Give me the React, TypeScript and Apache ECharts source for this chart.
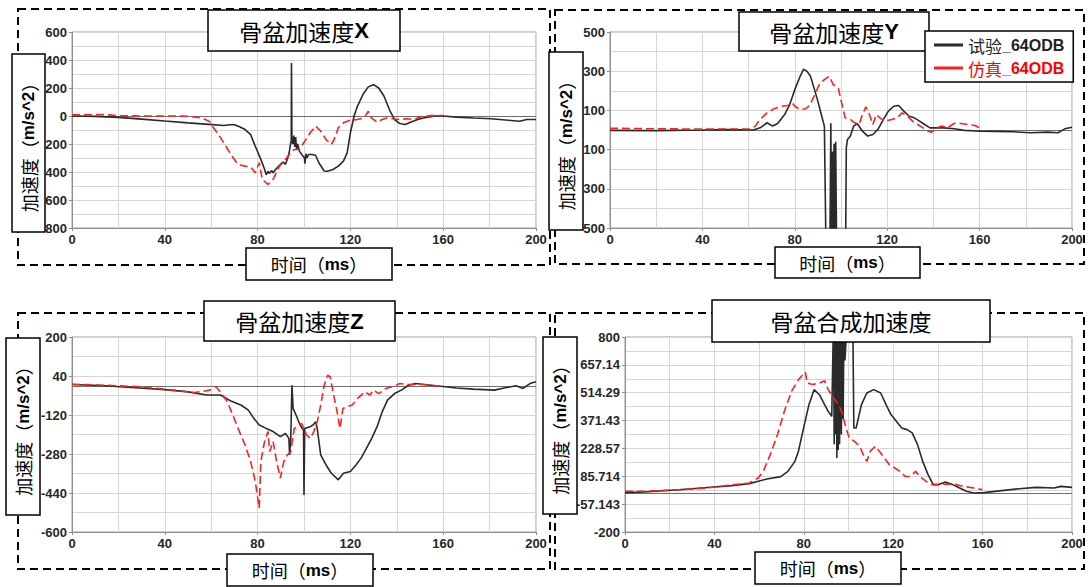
import React, { useEffect, useRef } from 'react';
import * as echarts from 'echarts';

type Pt = [number, number];

// Pelvis acceleration traces, [time (ms), acceleration (m/s^2)]
const X_TEST: Pt[] = [
  [0, 0], [10, -3], [20, -10], [30, -22], [40, -36], [50, -49], [59, -60], [65.5, -68], [68, -63], [70, -62],
  [72, -75], [74.6, -97], [77, -133], [79, -216], [81.4, -310], [83, -380], [83.7, -420], [84.5, -395], [85.2, -410],
  [86, -390], [86.7, -405], [88, -377], [89.8, -346], [91, -330], [92, -345], [93, -300], [93.6, -263], [94.2, -200],
  [94.5, -180], [94.6, 379], [94.8, -160], [95.2, -200], [95.6, -140], [96, -220], [96.4, -150], [96.8, -240],
  [97.3, -200], [98, -251], [98.8, -270], [99.6, -287], [100.2, -300], [100.4, -340], [100.8, -270], [101.3, -300],
  [101.9, -275], [103.4, -275], [105, -280], [106.4, -334], [108.7, -393], [110, -395], [112.5, -382], [114.8, -358],
  [117, -322], [118.6, -263], [120, -120], [121.6, 0], [123, 69], [125.4, 153], [127.7, 208], [130, 224], [132.2, 200],
  [134.5, 141], [136.8, 46], [139, -25], [141.3, -54], [143.6, -61], [145.9, -44], [149, -25], [152, -13], [156.5, 0],
  [160, 0], [165.6, -8], [173, -14], [180.7, -20], [188, -30], [193, -37], [196, -25], [200, -25],
];
const X_SIM: Pt[] = [
  [0, 8], [8, 8], [14, 10], [20, 2], [30, 0], [44, 0], [50, -2], [56, -13], [59.4, -40], [61, -85], [63.2, -133],
  [65.5, -193], [68.5, -276], [71.6, -347], [74.6, -358], [77, -365], [79, -405], [80.7, -334], [82, -453],
  [84.5, -489], [86.7, -453], [89, -370], [91.3, -322], [93.6, -276], [95.8, -239], [98, -239], [100.4, -179],
  [102.7, -120], [105, -72], [107.2, -108], [109.5, -168], [111.8, -203], [113, -168], [114.8, -84], [117, -49],
  [120, -30], [123, -25], [126, -13], [127.7, 34], [129, -13], [131.5, -44], [133.7, -25], [136, -13], [138.3, -20],
  [141.3, -25], [144.4, -20], [147.4, -25], [150.4, -5], [155, 3], [160, 3],
];

const Y_TEST: Pt[] = [
  [0, -2], [20, -3], [40, 0], [50, 2], [62, 0], [65, 11], [68, 37], [70.4, 20], [72.6, 33], [75.6, 79], [77.8, 130],
  [80, 206], [82.3, 274], [83.8, 311], [85.3, 299], [86.8, 274], [88.3, 215], [89.8, 155], [91.3, 87], [92.8, 20],
  [93.5, -600], [95.2, -600], [95.6, 35], [95.9, -600], [96.3, -110], [96.6, -600], [97, -70], [97.3, -600],
  [97.7, -60], [98.1, -600], [102, -600], [102.3, -90], [102.8, -48], [104, -32], [105.5, 20], [107, 33], [109.3, -6],
  [111.5, -31], [113.8, -23], [116, 3], [118.3, 53], [120.5, 96], [122.8, 121], [125, 125], [127.2, 96], [129.5, 70],
  [131.7, 62], [134, 45], [136.2, 28], [138.5, 11], [141.5, 11], [144.5, 11], [149, 6], [153.4, -2], [161, -6],
  [167, -7], [174.4, -9], [182, -14], [189.4, -11], [193.9, -14], [196.9, 6], [200, 14],
];
const Y_SIM: Pt[] = [
  [0, 9], [20, 6], [40, 5], [60.6, 5], [62.9, 20], [65, 54], [68, 87], [71, 108], [74, 121], [77, 125], [78.9, 138],
  [80, 121], [82.3, 104], [84.6, 108], [86.4, 125], [88.3, 172], [90.6, 232], [92.8, 257], [95, 274], [96.6, 232],
  [98.8, 215], [100.3, 138], [101.8, 62], [104, 54], [105.5, 40], [107.8, 28], [109.3, 79], [110.8, 118], [112.3, 79],
  [113.8, 28], [115.3, 79], [116.8, 62], [119, 45], [122, 54], [124.3, 62], [126.5, 87], [128.7, 70], [131, 45],
  [133.2, 28], [135.5, 11], [137.7, -6], [139.2, -11], [141.5, 11], [143.7, 20], [146, 11], [149, 33], [152, 33],
  [155, 28], [158, 23], [160, 11],
];

const Z_TEST: Pt[] = [
  [0, 5], [14, 0], [29, -9], [40, -16], [50, -25], [58, -38], [64, -38], [68.5, -63], [73, -80], [76, -100],
  [78.4, -134], [80.7, -161], [83.7, -175], [86.7, -188], [89.8, -209], [92, -196], [93.5, -216], [93.8, -284],
  [94.3, -216], [94.8, 2], [95.3, -93], [96.6, -121], [98, -154], [99.2, -175], [99.8, -180], [100, -448],
  [100.3, -175], [102.7, -168], [104, -160], [105, -148], [105.7, -175], [107.2, -284], [109.5, -325], [111.8, -359],
  [114.8, -386], [117, -359], [120, -352], [122.4, -325], [124.6, -297], [126.9, -257], [129.2, -216], [131.5, -168],
  [133.7, -107], [136, -59], [139, -32], [142, -18], [145, 2], [148, 9], [152, 5], [156.5, 0], [161, -4],
  [165.6, -9], [173, -14], [182, -18], [186.8, -8], [191.4, 0], [194.4, -11], [197.4, 9], [200, 16],
];
const Z_SIM: Pt[] = [
  [0, 6], [14, 2], [29, -4], [44, -18], [53, -28], [59.4, -18], [62, -4], [64, -25], [67, -66], [69.3, -120],
  [71.6, -175], [74.6, -243], [77, -311], [79, -393], [80.7, -502], [81.4, -311], [83, -229], [84.5, -188],
  [85.2, -270], [86.7, -229], [88.2, -311], [89.8, -379], [91.3, -311], [92.8, -284], [94.3, -270], [95.8, -175],
  [97.3, -168], [98.9, -154], [101.1, -202], [102.7, -216], [104.2, -189], [105.7, -148], [107.2, -80], [108.7, 2],
  [110.2, 43], [111.3, 36], [112.5, -25], [114, -93], [115.5, -175], [116.8, -93], [118.6, -86], [120.8, -79],
  [123.1, -52], [126.2, -25], [128.4, -38], [130, -18], [132.2, -32], [135.3, -11], [138.3, -4], [141.3, 9],
  [144.4, 5], [150.4, 5], [155, 2], [160, -4],
];

const R_TEST: Pt[] = [
  [0, 2], [8.6, 5], [24.3, 17], [40, 31], [47.8, 38], [55.6, 48], [63.5, 72], [69.7, 84], [72.9, 111], [76, 162],
  [77.6, 214], [79.9, 333], [82.3, 453], [84.6, 530], [87, 504], [89.3, 453], [90.9, 419], [92.5, 393], [93.3, 900],
  [93.6, 250], [93.9, 900], [94.2, 300], [94.5, 900], [94.8, 180], [95.1, 900], [95.4, 220], [95.7, 900], [96, 250],
  [96.4, 900], [96.8, 300], [97.3, 900], [97.6, 380], [98, 900], [98.4, 680], [99.5, 900], [101.9, 900],
  [102.4, 333], [103.4, 333], [105.8, 453], [108.2, 513], [111.3, 530], [114.4, 513], [116.8, 453], [119, 402],
  [121.5, 367], [123.8, 333], [126.2, 325], [128.5, 308], [130.9, 248], [133.2, 162], [135.6, 94], [137.9, 43],
  [140.3, 43], [143.4, 56], [146.6, 43], [149.7, 26], [152.8, 9], [156, 0], [160.7, 2], [168.5, 12], [176.3, 22],
  [184, 29], [192, 26], [195, 34], [200, 29],
];
const R_SIM: Pt[] = [
  [0, 9], [8.6, 9], [24.3, 17], [36.8, 26], [46.2, 39], [55.6, 51], [59.6, 77], [61.9, 111], [65, 197], [68.2, 299],
  [71.3, 419], [74.5, 521], [77.6, 581], [80.7, 620], [81.5, 564], [83.9, 556], [87, 564], [89.3, 576], [90.9, 530],
  [93.3, 487], [95.6, 453], [97.2, 410], [98.7, 342], [100.3, 282], [102.7, 265], [105, 239], [106.6, 197],
  [108.2, 162], [109.7, 214], [112, 239], [114.4, 205], [116, 180], [118.3, 145], [120.7, 128], [123, 111],
  [125.4, 85], [127.7, 85], [130, 111], [132.4, 80], [134.8, 60], [137.1, 43], [140.3, 43], [144.2, 46],
  [148.1, 43], [151.3, 34], [156, 26], [159.9, 17],
];

// Tick labels of the acceleration axes, bottom to top
const X_ACC_TICKS = ['-800', '-600', '-400', '-200', '0', '200', '400', '600'];
const Y_ACC_TICKS = ['-500', '-300', '-100', '100', '300', '500'];
const Z_ACC_TICKS = ['-600', '-440', '-280', '-120', '40', '200'];
const R_ACC_TICKS = ['-200', '-57.143', '85.714', '228.57', '371.43', '514.29', '657.14', '800'];

const TIME_MIN = 0;
const TIME_MAX = 200;
const TIME_STEP = 40;

const NAME_TEST = '试验_64ODB';
const NAME_SIM = '仿真_64ODB';

const PANEL_TITLES: [string, string][] = [
  ['骨盆加速度', 'X'],
  ['骨盆加速度', 'Y'],
  ['骨盆加速度', 'Z'],
  ['骨盆合成加速度', ''],
];

const PANELS = [
  { test: X_TEST, sim: X_SIM, yMin: -800, yMax: 600, ticks: X_ACC_TICKS },
  { test: Y_TEST, sim: Y_SIM, yMin: -500, yMax: 500, ticks: Y_ACC_TICKS },
  { test: Z_TEST, sim: Z_SIM, yMin: -600, yMax: 200, ticks: Z_ACC_TICKS },
  { test: R_TEST, sim: R_SIM, yMin: -200, yMax: 800, ticks: R_ACC_TICKS },
];

// Page layout in pixels: plot rectangles, dashed frames and caption boxes
const LAYOUT = [
  { grid: { left: 72, top: 32, width: 464, height: 196 }, frame: [18, 9, 532, 256], title: [208, 10, 192, 41], yBox: [12, 54, 33, 178], xBox: [246, 248, 146, 32] },
  { grid: { left: 610, top: 32, width: 462, height: 196 }, frame: [555, 10, 529, 254], title: [739, 12, 190, 39], yBox: [549, 52, 34, 178], xBox: [775, 247, 145, 31] },
  { grid: { left: 72, top: 337, width: 464, height: 195 }, frame: [18, 313, 532, 256], title: [204, 301, 191, 40], yBox: [6, 338, 34, 177], xBox: [227, 554, 146, 32] },
  { grid: { left: 625, top: 337, width: 447, height: 195 }, frame: [555, 313, 529, 256], title: [712, 300, 278, 42], yBox: [543, 337, 34, 177], xBox: [755, 552, 146, 32] },
];

const CJK = "'Noto Sans CJK SC', 'Noto Sans', sans-serif";
const LATIN = "'Liberation Sans', Arial, sans-serif";
const GRID_LINE = '#d6d6d6';
const AXIS_GREY = '#8f8f8f';
const TEST_COLOR = '#2a2a2a';
const SIM_COLOR = '#ff1f1f';

// Each acceleration axis runs in tick steps (0..n) so its ticks fall on the labelled values.
function toSteps(p: Pt, yMin: number, yMax: number, n: number): Pt {
  return [p[0], ((p[1] - yMin) / (yMax - yMin)) * n];
}

function boxRect(b: number[], z = 50) {
  return {
    type: 'rect',
    silent: true,
    z,
    shape: { x: b[0], y: b[1], width: b[2], height: b[3] },
    style: { fill: '#ffffff', stroke: '#000000', lineWidth: 1.5 },
  };
}

function frameRect(b: number[]) {
  return {
    type: 'rect',
    silent: true,
    z: 40,
    shape: { x: b[0], y: b[1], width: b[2], height: b[3] },
    style: { fill: 'none', stroke: '#000000', lineWidth: 2, lineDash: [8, 5] },
  };
}

function centredText(x: number, y: number, text: string, rich: any, rotation = 0) {
  return {
    type: 'text',
    silent: true,
    z: 52,
    x,
    y,
    rotation,
    style: {
      text,
      rich,
      align: 'center',
      verticalAlign: 'middle',
      textAlign: 'center',
      textVerticalAlign: 'middle',
      fill: '#000',
    },
  };
}

const CAPTION_RICH = {
  c: { fontFamily: CJK, fontSize: 18, color: '#000' },
  b: { fontFamily: LATIN, fontSize: 17, fontWeight: 'bold', color: '#000' },
};
const TITLE_RICH = {
  c: { fontFamily: CJK, fontSize: 23, color: '#000' },
  b: { fontFamily: LATIN, fontSize: 22, fontWeight: 'bold', color: '#000' },
};

function buildOption() {
  const grid = LAYOUT.map((l) => ({
    ...l.grid,
    show: true,
    backgroundColor: '#ffffff',
    borderColor: '#9d9d9d',
    borderWidth: 1,
    containLabel: false,
  }));

  const labelStyle = { fontFamily: LATIN, fontSize: 13, fontWeight: 'bold', color: '#262626' };

  const xAxis = PANELS.map((_, i) => ({
    type: 'value',
    gridIndex: i,
    min: TIME_MIN,
    max: TIME_MAX,
    interval: TIME_STEP,
    axisLine: { show: true, onZero: false, lineStyle: { color: AXIS_GREY } },
    axisTick: { show: true, length: 3, lineStyle: { color: AXIS_GREY } },
    axisLabel: { ...labelStyle, margin: 5 },
    splitLine: { show: true, lineStyle: { color: GRID_LINE, width: 1 } },
    minorTick: { show: false, splitNumber: 2 },
    minorSplitLine: { show: true, lineStyle: { color: GRID_LINE, width: 1 } },
  }));

  const yAxis = PANELS.map((p, i) => ({
    type: 'value',
    gridIndex: i,
    min: 0,
    max: p.ticks.length - 1,
    interval: 1,
    axisLine: { show: true, onZero: false, lineStyle: { color: AXIS_GREY } },
    axisTick: { show: true, length: 3, lineStyle: { color: AXIS_GREY } },
    axisLabel: {
      ...labelStyle,
      margin: 5,
      formatter: (v: number) => p.ticks[Math.round(v)] ?? '',
    },
    splitLine: { show: true, lineStyle: { color: GRID_LINE, width: 1 } },
    minorTick: { show: false, splitNumber: 2 },
    minorSplitLine: { show: true, lineStyle: { color: GRID_LINE, width: 1 } },
  }));

  const series: any[] = [];
  PANELS.forEach((p, i) => {
    const n = p.ticks.length - 1;
    const zero = ((0 - p.yMin) / (p.yMax - p.yMin)) * n;
    series.push({
      name: NAME_TEST,
      type: 'line',
      xAxisIndex: i,
      yAxisIndex: i,
      data: p.test.map((pt) => toSteps(pt, p.yMin, p.yMax, n)),
      showSymbol: false,
      symbol: 'none',
      clip: true,
      color: TEST_COLOR,
      itemStyle: { color: TEST_COLOR },
      lineStyle: { color: TEST_COLOR, width: 1.6 },
      z: 3,
      markLine: {
        silent: true,
        symbol: 'none',
        label: { show: false },
        lineStyle: { color: '#6e6e6e', width: 1, type: 'solid' },
        data: [{ yAxis: zero }],
        z: 2,
      },
    });
    series.push({
      name: NAME_SIM,
      type: 'line',
      xAxisIndex: i,
      yAxisIndex: i,
      data: p.sim.map((pt) => toSteps(pt, p.yMin, p.yMax, n)),
      showSymbol: false,
      symbol: 'none',
      clip: true,
      color: SIM_COLOR,
      itemStyle: { color: SIM_COLOR },
      lineStyle: { color: SIM_COLOR, width: 1.6, type: [8, 4] },
      z: 4,
    });
  });

  const graphic: any[] = [];
  LAYOUT.forEach((l, i) => {
    graphic.push(frameRect(l.frame));
    // panel title
    graphic.push(boxRect(l.title));
    const [cjk, latin] = PANEL_TITLES[i];
    graphic.push(
      centredText(
        l.title[0] + l.title[2] / 2,
        l.title[1] + l.title[3] / 2,
        latin ? `{c|${cjk}}{b|${latin}}` : `{c|${cjk}}`,
        TITLE_RICH
      )
    );
    // vertical axis caption
    graphic.push(boxRect(l.yBox));
    graphic.push(
      centredText(
        l.yBox[0] + l.yBox[2] / 2,
        l.yBox[1] + l.yBox[3] / 2,
        '{c|加速度（}{b|m/s^2}{c|）}',
        CAPTION_RICH,
        Math.PI / 2
      )
    );
    // horizontal axis caption
    graphic.push(boxRect(l.xBox));
    graphic.push(
      centredText(
        l.xBox[0] + l.xBox[2] / 2,
        l.xBox[1] + l.xBox[3] / 2,
        '{c|时间（}{b|ms}{c|）}',
        CAPTION_RICH
      )
    );
  });

  const legend = {
    show: true,
    left: 925,
    top: 31,
    orient: 'vertical',
    selectedMode: false,
    padding: [5, 9, 5, 9],
    itemGap: 5,
    itemWidth: 29,
    itemHeight: 3,
    icon: 'rect',
    backgroundColor: '#ffffff',
    borderColor: '#000000',
    borderWidth: 1.5,
    z: 60,
    data: [
      { name: NAME_TEST, textStyle: { color: '#222222' } },
      { name: NAME_SIM, textStyle: { color: '#ff0000' } },
    ],
    formatter: (name: string) => `{c|${name.slice(0, 2)}}{b|${name.slice(2)}}`,
    textStyle: {
      lineHeight: 18,
      rich: {
        c: { fontFamily: CJK, fontSize: 17, lineHeight: 18 },
        b: { fontFamily: LATIN, fontSize: 16, fontWeight: 'bold', lineHeight: 18 },
      },
    },
  };

  return {
    animation: false,
    backgroundColor: '#ffffff',
    grid,
    xAxis,
    yAxis,
    series,
    legend,
    graphic: { elements: graphic },
  };
}

export default function App() {
  const ref = useRef<HTMLDivElement>(null);

  useEffect(() => {
    if (!ref.current) return;
    const chart = echarts.init(ref.current, undefined, { renderer: 'svg' });
    chart.setOption(buildOption() as any);
    return () => {
      chart.dispose();
    };
  }, []);

  return (
    <div
      ref={ref}
      style={{ position: 'absolute', left: 0, top: 0, width: 1089, height: 587, background: '#ffffff' }}
    />
  );
}
